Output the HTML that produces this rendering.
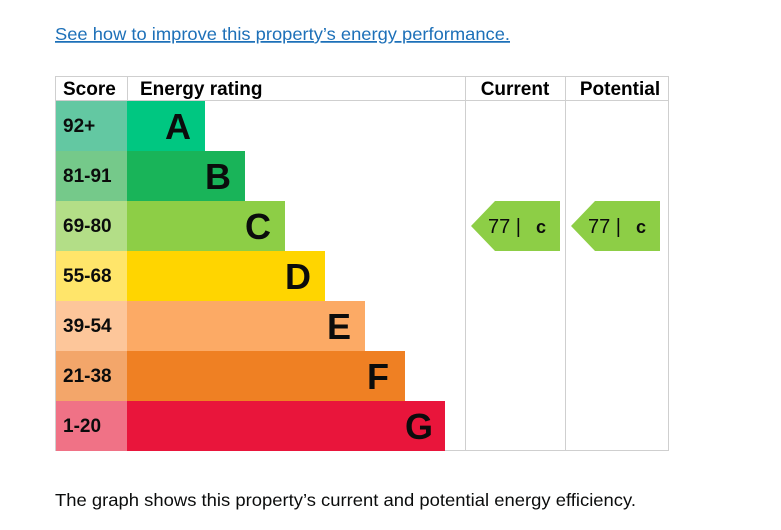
<!DOCTYPE html>
<html><head><style>
body{margin:0;width:781px;height:530px;background:#fff;font-family:"Liberation Sans",sans-serif;overflow:hidden}
</style></head><body>
<svg width="781" height="530" xmlns="http://www.w3.org/2000/svg" style="position:absolute;left:0;top:0">
<text x="55" y="40" font-family="Liberation Sans, sans-serif" font-size="17.5" fill="#1d70b8" text-decoration="underline" textLength="455" lengthAdjust="spacingAndGlyphs">See how to improve this property’s energy performance.</text>
<g font-family="Liberation Sans, sans-serif" font-weight="bold">
<rect x="55.5" y="76.5" width="613" height="374" fill="none" stroke="#cfcfcf"/>
<line x1="55" y1="100.5" x2="669" y2="100.5" stroke="#cfcfcf"/>
<line x1="127.5" y1="76" x2="127.5" y2="101" stroke="#cfcfcf"/>
<line x1="465.5" y1="76" x2="465.5" y2="451" stroke="#cfcfcf"/>
<line x1="565.5" y1="76" x2="565.5" y2="451" stroke="#cfcfcf"/>
<text x="63" y="95" font-size="19">Score</text>
<text x="140" y="95" font-size="19">Energy rating</text>
<text x="515" y="95" font-size="19" text-anchor="middle">Current</text>
<text x="620" y="95" font-size="19" text-anchor="middle">Potential</text>

<rect x="56" y="101" width="71" height="50" fill="#63c8a2"/><rect x="127" y="101" width="78" height="50" fill="#00c781"/>
<rect x="56" y="151" width="71" height="50" fill="#75c98a"/><rect x="127" y="151" width="118" height="50" fill="#19b459"/>
<rect x="56" y="201" width="71" height="50" fill="#b3de87"/><rect x="127" y="201" width="158" height="50" fill="#8dce46"/>
<rect x="56" y="251" width="71" height="50" fill="#ffe56a"/><rect x="127" y="251" width="198" height="50" fill="#ffd500"/>
<rect x="56" y="301" width="71" height="50" fill="#fdc69a"/><rect x="127" y="301" width="238" height="50" fill="#fcaa65"/>
<rect x="56" y="351" width="71" height="50" fill="#f3a66a"/><rect x="127" y="351" width="278" height="50" fill="#ef8023"/>
<rect x="56" y="401" width="71" height="50" fill="#f07286"/><rect x="127" y="401" width="318" height="50" fill="#e9153b"/>

<g font-size="19" fill="#0b0c0c">
<text x="63" y="132">92+</text><text x="63" y="182">81-91</text><text x="63" y="232">69-80</text>
<text x="63" y="282">55-68</text><text x="63" y="332">39-54</text><text x="63" y="382">21-38</text><text x="63" y="432">1-20</text>
</g>
<g font-size="36" fill="#0b0c0c" text-anchor="end">
<text x="191" y="139">A</text><text x="231" y="189">B</text><text x="271" y="239">C</text>
<text x="311" y="289">D</text><text x="351" y="339">E</text><text x="389" y="389">F</text><text x="433" y="439">G</text>
</g>
<polygon points="471,226 495,201 560,201 560,251 495,251" fill="#8dce46"/>
<polygon points="571,226 595,201 660,201 660,251 595,251" fill="#8dce46"/>
</g>
<g font-family="Liberation Sans, sans-serif" font-size="20" fill="#0b0c0c">
<text x="488" y="233">77 |</text><text x="536" y="233" font-weight="bold" font-size="18">c</text>
<text x="588" y="233">77 |</text><text x="636" y="233" font-weight="bold" font-size="18">c</text>
</g>
<text x="55" y="506" font-family="Liberation Sans, sans-serif" font-size="17.5" fill="#0b0c0c" textLength="581" lengthAdjust="spacingAndGlyphs">The graph shows this property’s current and potential energy efficiency.</text>
</svg>
</body></html>
